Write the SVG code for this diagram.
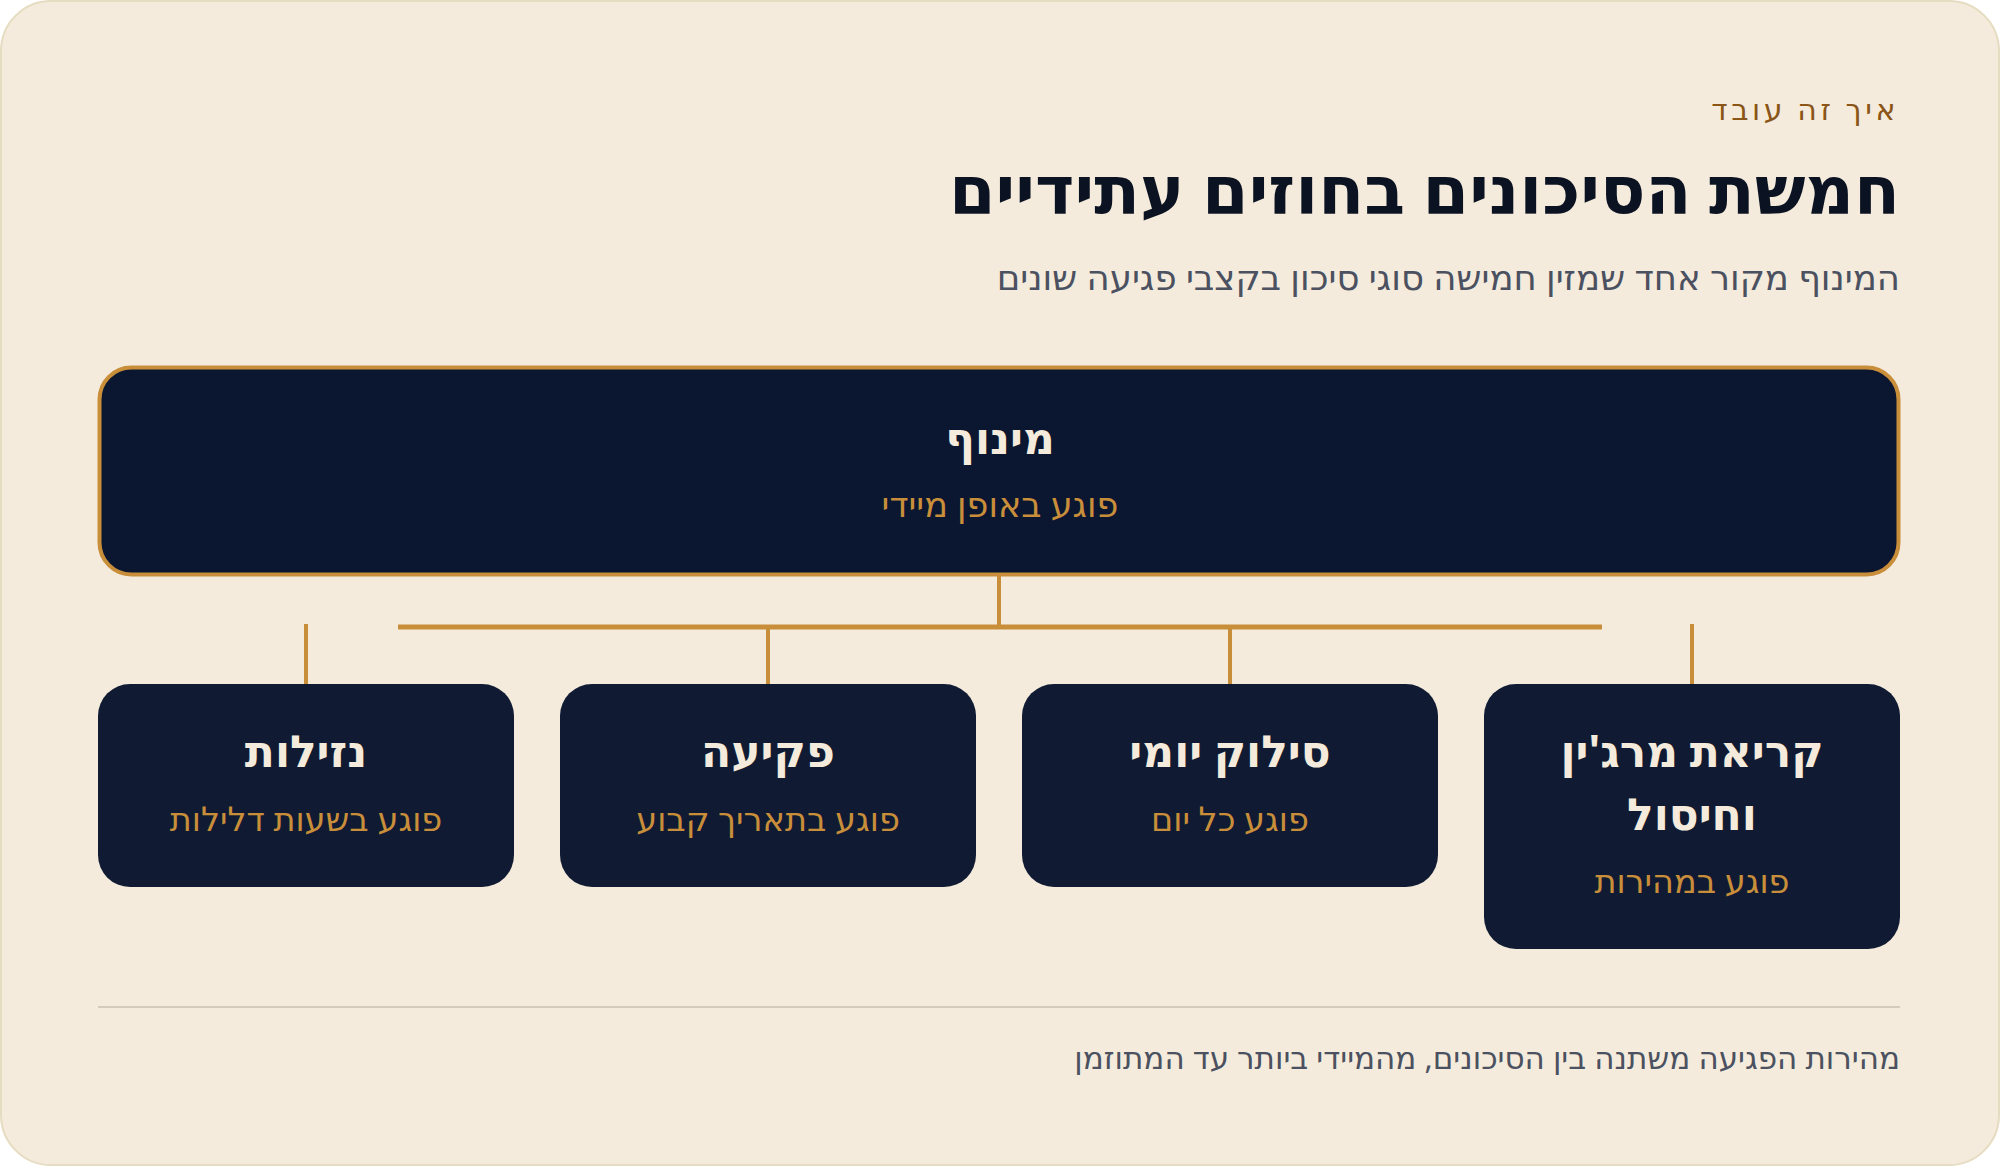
<svg xmlns="http://www.w3.org/2000/svg" width="2000" height="1166" viewBox="0 0 2000 1166">
  <style>
    text { font-family: "Noto Sans", "DejaVu Sans", sans-serif; }
    .eyebrow { font-size: 30px; fill: #8A5516; letter-spacing: 3.5px; }
    .title { font-size: 67px; font-weight: 700; fill: #0B1221; }
    .subtitle { font-size: 35.5px; fill: #4B5160; }
    .ntitle { font-size: 44px; font-weight: 700; fill: #F4EBDC; }
    .msub { font-size: 35px; fill: #C98E3A; }
    .nsub { font-size: 33.5px; fill: #C98E3A; }
    .footer { font-size: 31px; fill: #4B5160; }
    .conn { stroke: #C98E3A; stroke-width: 4; fill: none; }
    .child { fill: #101B33; }
  </style>
  <rect x="1" y="1" width="1998" height="1164" rx="50" ry="50" fill="#F4EBDC" stroke="#E6DCC1" stroke-width="2"/>
  <text class="eyebrow" x="1899" y="120" text-anchor="end">איך זה עובד</text>
  <text class="title" x="1900" y="214" text-anchor="end">חמשת הסיכונים בחוזים עתידיים</text>
  <text class="subtitle" x="1900" y="290" text-anchor="end">המינוף מקור אחד שמזין חמישה סוגי סיכון בקצבי פגיעה שונים</text>

  <g id="connectors">
    <line class="conn" x1="999" y1="576" x2="999" y2="627"/>
    <line class="conn" x1="398" y1="627" x2="1602" y2="627" style="stroke-width:5"/>
    <line class="conn" x1="768" y1="627" x2="768" y2="684"/>
    <line class="conn" x1="1230" y1="627" x2="1230" y2="684"/>
    <line class="conn" x1="306" y1="624" x2="306" y2="684"/>
    <line class="conn" x1="1692" y1="624" x2="1692" y2="684"/>
  </g>

  <g id="node-leverage">
    <rect x="99.5" y="367.5" width="1799" height="207" rx="32" ry="32" fill="#0B1631" stroke="#C98E3A" stroke-width="4"/>
    <text class="ntitle" x="1000" y="454" text-anchor="middle">מינוף</text>
    <text class="msub" x="1000" y="517" text-anchor="middle">פוגע באופן מיידי</text>
  </g>

  <g id="node-margin">
    <rect class="child" x="1484" y="684" width="416" height="265" rx="32" ry="32"/>
    <text class="ntitle" x="1692" y="767" text-anchor="middle">קריאת מרג'ין</text>
    <text class="ntitle" x="1692" y="830" text-anchor="middle">וחיסול</text>
    <text class="nsub" x="1692" y="893" text-anchor="middle">פוגע במהירות</text>
  </g>

  <g id="node-daily">
    <rect class="child" x="1022" y="684" width="416" height="203" rx="32" ry="32"/>
    <text class="ntitle" x="1230" y="767" text-anchor="middle">סילוק יומי</text>
    <text class="nsub" x="1230" y="831" text-anchor="middle">פוגע כל יום</text>
  </g>

  <g id="node-expiry">
    <rect class="child" x="560" y="684" width="416" height="203" rx="32" ry="32"/>
    <text class="ntitle" x="768" y="767" text-anchor="middle">פקיעה</text>
    <text class="nsub" x="768" y="831" text-anchor="middle">פוגע בתאריך קבוע</text>
  </g>

  <g id="node-liquidity">
    <rect class="child" x="98" y="684" width="416" height="203" rx="32" ry="32"/>
    <text class="ntitle" x="306" y="767" text-anchor="middle">נזילות</text>
    <text class="nsub" x="306" y="831" text-anchor="middle">פוגע בשעות דלילות</text>
  </g>

  <line x1="98" y1="1007" x2="1900" y2="1007" stroke="#D3CBBE" stroke-width="2"/>
  <text class="footer" x="1900" y="1069" text-anchor="end">מהירות הפגיעה משתנה בין הסיכונים, מהמיידי ביותר עד המתוזמן</text>
</svg>
